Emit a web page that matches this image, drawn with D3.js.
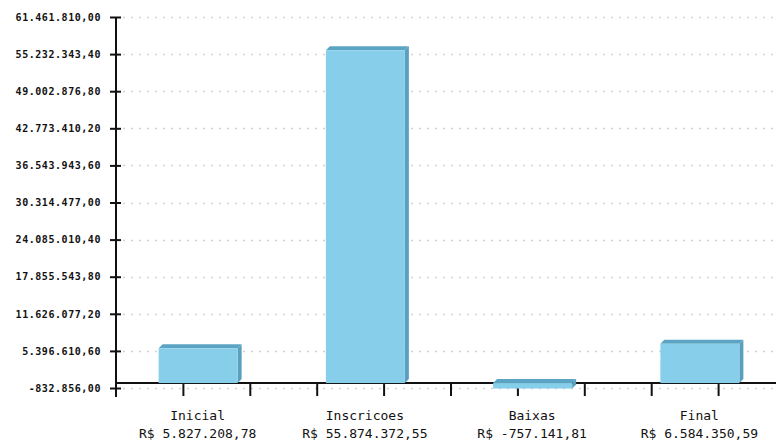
<!DOCTYPE html>
<html>
<head>
<meta charset="utf-8">
<script src="https://cdn.jsdelivr.net/npm/d3@7"></script>
<style>
  html, body { margin: 0; padding: 0; background: #fff; }
  svg { display: block; }
</style>
</head>
<body>
<svg id="chart" width="776" height="443"></svg>
<script>
// ---- data ----
const categories = ["Inicial", "Inscricoes", "Baixas", "Final"];
const valueLabels = ["R$ 5.827.208,78", "R$ 55.874.372,55", "R$ -757.141,81", "R$ 6.584.350,59"];
const values = [5827208.78, 55874372.55, -757141.81, 6584350.59];
const yTickValues = [-832856.00, 5396610.60, 11626077.20, 17855543.80, 24085010.40, 30314477.00,
                     36543943.60, 42773410.20, 49002876.80, 55232343.40, 61461810.00];
const yTickLabels = ["-832.856,00", "5.396.610,60", "11.626.077,20", "17.855.543,80", "24.085.010,40",
                     "30.314.477,00", "36.543.943,60", "42.773.410,20", "49.002.876,80", "55.232.343,40",
                     "61.461.810,00"];
const xTickSteps = [1, 2, 3, 4, 5, 6, 7, 8, 9];

// ---- layout ----
const svg = d3.select("#chart");
const x0 = 116, x1 = 785, yTop = 17, yBot = 388;
const y = d3.scaleLinear().domain([yTickValues[0], yTickValues[yTickValues.length - 1]]).range([yBot, yTop]);
const xb = d3.scaleBand().domain(categories).range([x0, x1]).paddingInner(0).paddingOuter(0);
const xt = d3.scaleLinear().domain([0, 10]).range([x0, x1]);
const barW = 79, depth = 4;
const y0 = y(0);

// grid
svg.append("g").selectAll("line").data(yTickValues).join("line")
  .attr("x1", 123).attr("x2", 776)
  .attr("y1", d => Math.round(y(d)) + 0.5).attr("y2", d => Math.round(y(d)) + 0.5)
  .attr("stroke", "#d2d2d2").attr("stroke-width", 1.5).attr("stroke-dasharray", "2,6");

// baseline
svg.append("line").attr("x1", x0).attr("x2", 776).attr("y1", y0).attr("y2", y0)
  .attr("stroke", "#111").attr("stroke-width", 2);

// x ticks
const xAxis = svg.append("g").attr("transform", `translate(0,${y0 + 1})`)
  .call(d3.axisBottom(xt).tickValues(xTickSteps).tickSize(12).tickFormat(""));
xAxis.select(".domain").remove();
xAxis.selectAll(".tick line").attr("stroke", "#111").attr("stroke-width", 2);

// bars (3D)
const bars = svg.append("g").selectAll("g").data(values).join("g");
bars.each(function(v, i) {
  const g = d3.select(this);
  const cx = xb(categories[i]) + xb.bandwidth() / 2;
  const fx = cx - 41;
  const top = Math.min(y(v), y0), bot = Math.max(y(v), y0) + (v < 0 ? 1 : 0);
  // side
  g.append("path")
    .attr("d", `M${fx + barW},${top} L${fx + barW + depth},${top - depth} L${fx + barW + depth},${bot - depth} L${fx + barW},${bot} Z`)
    .attr("fill", "#5a9fbe");
  // top
  g.append("path")
    .attr("d", `M${fx},${top} L${fx + depth},${top - depth} L${fx + barW + depth},${top - depth} L${fx + barW},${top} Z`)
    .attr("fill", "#5ba4c4");
  // front
  g.append("rect").attr("x", fx).attr("y", top).attr("width", barW).attr("height", Math.max(0.5, bot - top))
    .attr("fill", "#87ceeb");
});

// y axis
const yAxis = svg.append("g").attr("transform", `translate(121,0)`)
  .call(d3.axisLeft(y).tickValues(yTickValues).tickSize(11).tickPadding(9)
    .tickFormat((d, i) => yTickLabels[i]));
yAxis.select(".domain").remove();
yAxis.selectAll(".tick line").attr("stroke", "#111").attr("stroke-width", 2);
yAxis.selectAll(".tick text")
  .attr("font-family", "DejaVu Sans Mono").attr("font-size", 10).attr("font-weight", "bold")
  .attr("letter-spacing", "0.55px").attr("fill", "#111");
svg.append("line").attr("x1", x0).attr("x2", x0).attr("y1", yTop).attr("y2", 397)
  .attr("stroke", "#111").attr("stroke-width", 2);

// x labels
const lab = svg.append("g").selectAll("text").data(categories).join("text")
  .attr("x", d => xb(d) + xb.bandwidth() / 2 - 2)
  .attr("y", 420)
  .attr("text-anchor", "middle")
  .attr("font-family", "DejaVu Sans Mono").attr("font-size", 13).attr("fill", "#111");
lab.append("tspan").text(d => d);
lab.append("tspan").attr("x", d => xb(d) + xb.bandwidth() / 2 - 2).attr("dy", 18).text((d, i) => valueLabels[i]);
</script>
</body>
</html>
